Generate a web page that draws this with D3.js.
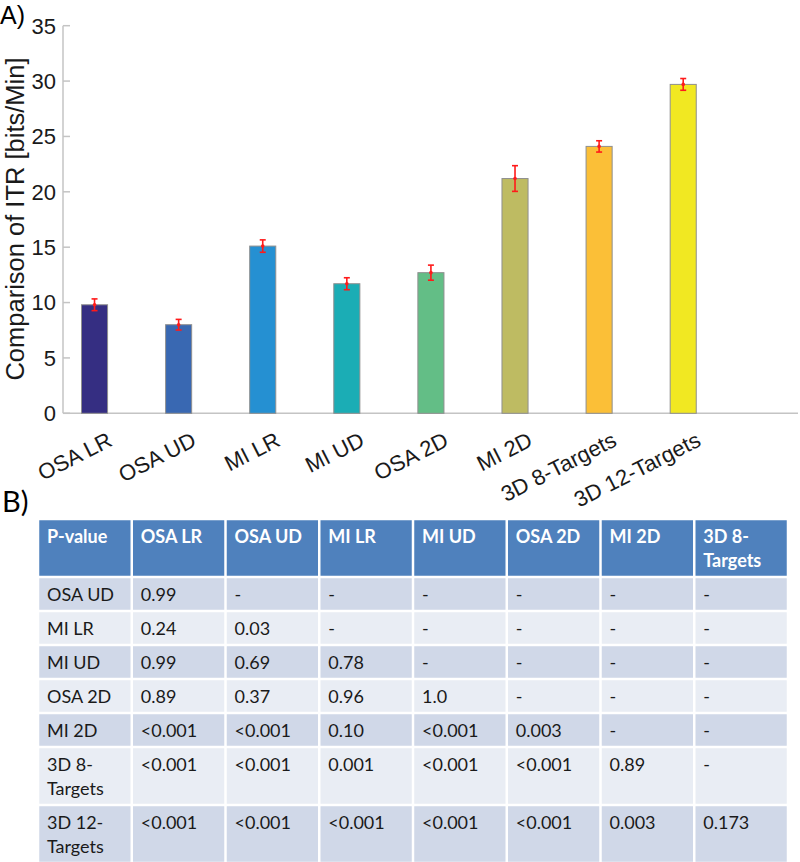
<!DOCTYPE html>
<html>
<head>
<meta charset="utf-8">
<script src="https://cdn.jsdelivr.net/npm/d3@7"></script>
<style>
  body { margin: 0; background: #fff; }
  svg { display: block; }
</style>
</head>
<body>
<script>
// bar chart data (panel A)
const categories = ['OSA LR', 'OSA UD', 'MI LR', 'MI UD', 'OSA 2D', 'MI 2D', '3D 8-Targets', '3D 12-Targets'];
const itrMeans = [9.8, 8.0, 15.1, 11.7, 12.7, 21.2, 24.1, 29.7];
const itrErrors = [0.53, 0.48, 0.56, 0.54, 0.68, 1.16, 0.51, 0.53];
const barColors = ['#352e82', '#3968b2', '#2590d2', '#1badb5', '#63be86', '#bebb62', '#fbbf37', '#f1e822'];
const yTicks = [0, 5, 10, 15, 20, 25, 30, 35];

// p-value table data (panel B)
const tableColumns = ['P-value', 'OSA LR', 'OSA UD', 'MI LR', 'MI UD', 'OSA 2D', 'MI 2D', '3D 8-Targets'];
const tableRows = ['OSA UD', 'MI LR', 'MI UD', 'OSA 2D', 'MI 2D', '3D 8-Targets', '3D 12-Targets'];
const pValues = [
  ['0.99', '-', '-', '-', '-', '-', '-'],
  ['0.24', '0.03', '-', '-', '-', '-', '-'],
  ['0.99', '0.69', '0.78', '-', '-', '-', '-'],
  ['0.89', '0.37', '0.96', '1.0', '-', '-', '-'],
  ['<0.001', '<0.001', '0.10', '<0.001', '0.003', '-', '-'],
  ['<0.001', '<0.001', '0.001', '<0.001', '<0.001', '0.89', '-'],
  ['<0.001', '<0.001', '<0.001', '<0.001', '<0.001', '0.003', '0.173']
];

const width = 800;
const height = 862;

const svg = d3.select('body')
  .append('svg')
  .attr('width', width)
  .attr('height', height);

// ---- panel A: bar chart ----
const axisFont = '"Liberation Sans", Arial, sans-serif';
const x = d3.scaleLinear().domain([0.625, 9.365]).range([63, 798]);
const y = d3.scaleLinear().domain([0, 35]).range([413.3, 25.7]);
const barWidth = x(1.155) - x(0.845);

svg.append('text')
  .attr('x', 0)
  .attr('y', 24)
  .style('font-family', axisFont)
  .style('font-size', '25px')
  .text('A)');

// axis lines
svg.append('line')
  .attr('x1', x(0.625)).attr('x2', x(0.625))
  .attr('y1', y(35)).attr('y2', y(0))
  .attr('stroke', '#c4c4c4').attr('stroke-width', 1.5);

svg.append('line')
  .attr('x1', x(0.625)).attr('x2', x(9.365))
  .attr('y1', y(0)).attr('y2', y(0))
  .attr('stroke', '#c4c4c4').attr('stroke-width', 1.5);

const yAxis = svg.append('g');
yAxis.selectAll('line')
  .data(yTicks)
  .enter()
  .append('line')
  .attr('x1', x(0.625)).attr('x2', x(0.625) + 7)
  .attr('y1', d => y(d)).attr('y2', d => y(d))
  .attr('stroke', '#c4c4c4').attr('stroke-width', 1.5);

yAxis.selectAll('text')
  .data(yTicks)
  .enter()
  .append('text')
  .attr('x', 56)
  .attr('y', d => y(d))
  .attr('dy', '0.36em')
  .style('text-anchor', 'end')
  .style('font-family', axisFont)
  .style('font-size', '22px')
  .style('fill', '#1a1a1a')
  .text(d => d);

svg.append('text')
  .attr('transform', 'translate(23.5, 219) rotate(-90)')
  .style('text-anchor', 'middle')
  .style('font-family', axisFont)
  .style('font-size', '25.5px')
  .style('fill', '#1a1a1a')
  .text('Comparison of ITR [bits/Min]');

// bars
const bars = svg.append('g');
bars.selectAll('rect')
  .data(itrMeans)
  .enter()
  .append('rect')
  .attr('x', (d, i) => x(i + 1) - barWidth / 2)
  .attr('y', d => y(d))
  .attr('width', barWidth)
  .attr('height', d => y(0) - y(d))
  .attr('fill', (d, i) => barColors[i])
  .attr('stroke', '#8f8f8f')
  .attr('stroke-width', 1);

// error bars
const errs = svg.append('g')
  .selectAll('g')
  .data(itrMeans)
  .enter()
  .append('g')
  .attr('stroke', '#ff1a1a')
  .attr('stroke-width', 1.6);

errs.append('line')
  .attr('x1', (d, i) => x(i + 1)).attr('x2', (d, i) => x(i + 1))
  .attr('y1', (d, i) => y(d + itrErrors[i])).attr('y2', (d, i) => y(d - itrErrors[i]));
errs.append('line')
  .attr('x1', (d, i) => x(i + 1) - 3).attr('x2', (d, i) => x(i + 1) + 3)
  .attr('y1', (d, i) => y(d + itrErrors[i])).attr('y2', (d, i) => y(d + itrErrors[i]));
errs.append('line')
  .attr('x1', (d, i) => x(i + 1) - 3).attr('x2', (d, i) => x(i + 1) + 3)
  .attr('y1', (d, i) => y(d - itrErrors[i])).attr('y2', (d, i) => y(d - itrErrors[i]));
errs.append('circle')
  .attr('cx', (d, i) => x(i + 1))
  .attr('cy', d => y(d))
  .attr('r', 1.8)
  .attr('fill', '#ff1a1a')
  .attr('stroke', 'none');

// rotated category labels
svg.append('g')
  .selectAll('text')
  .data(categories)
  .enter()
  .append('text')
  .attr('transform', (d, i) => `translate(${x(i + 1) + 19}, 445) rotate(-27)`)
  .style('text-anchor', 'end')
  .style('font-family', axisFont)
  .style('font-size', '22px')
  .style('fill', '#1a1a1a')
  .text(d => d);

// ---- panel B: p-value table ----
const tableFont = 'Lato, "Open Sans", sans-serif';
svg.append('text')
  .attr('x', 2)
  .attr('y', 512)
  .style('font-family', tableFont)
  .style('font-size', '29px')
  .text('B)');

const col = d3.scaleBand().domain(tableColumns).range([38, 788]);
const pad = 9;
const lineH = 24;

// split a label after its hyphen when it does not fit the column
function wrapLabel(label, bold) {
  const probe = svg.append('text')
    .style('font-family', tableFont)
    .style('font-size', '18px')
    .style('font-weight', bold ? 'bold' : 'normal')
    .text(label);
  const w = probe.node().getComputedTextLength();
  probe.remove();
  if (w > col.bandwidth() - 2 * pad && label.includes('-')) {
    const k = label.indexOf('-') + 1;
    return [label.slice(0, k), label.slice(k)];
  }
  return [label];
}

const headerLines = tableColumns.map(c => wrapLabel(c, true));
const bodyLines = tableRows.map((r, i) => [wrapLabel(r, false)].concat(pValues[i].map(v => [v])));
const rowsAll = [headerLines].concat(bodyLines);
const rowHeights = rowsAll.map(r => 10 + lineH * d3.max(r, c => c.length));
const rowTops = [];
rowHeights.reduce((acc, h) => { rowTops.push(acc); return acc + h; }, 519);

const rowFill = i => (i === 0 ? '#4f81bd' : (i % 2 === 1 ? '#d0d8e8' : '#e9edf4'));

const tRows = svg.append('g')
  .selectAll('g')
  .data(rowsAll)
  .enter()
  .append('g')
  .attr('transform', (d, i) => `translate(0, ${rowTops[i]})`);

tRows.each(function (cells, ri) {
  const g = d3.select(this);
  const cg = g.selectAll('g')
    .data(cells)
    .enter()
    .append('g')
    .attr('transform', (d, ci) => `translate(${col(tableColumns[ci])}, 0)`);

  cg.append('rect')
    .attr('x', 1.25)
    .attr('y', 1.25)
    .attr('width', col.bandwidth() - 2.5)
    .attr('height', rowHeights[ri] - 2.5)
    .attr('fill', rowFill(ri));

  cg.append('text')
    .attr('x', pad)
    .attr('y', 24)
    .style('font-family', tableFont)
    .style('font-size', '18px')
    .style('font-weight', ri === 0 ? 'bold' : 'normal')
    .style('fill', ri === 0 ? '#ffffff' : '#1a1a1a')
    .selectAll('tspan')
    .data(d => d)
    .enter()
    .append('tspan')
    .attr('x', pad)
    .attr('dy', (d, k) => (k === 0 ? 0 : lineH))
    .text(d => d);
});
</script>
</body>
</html>
